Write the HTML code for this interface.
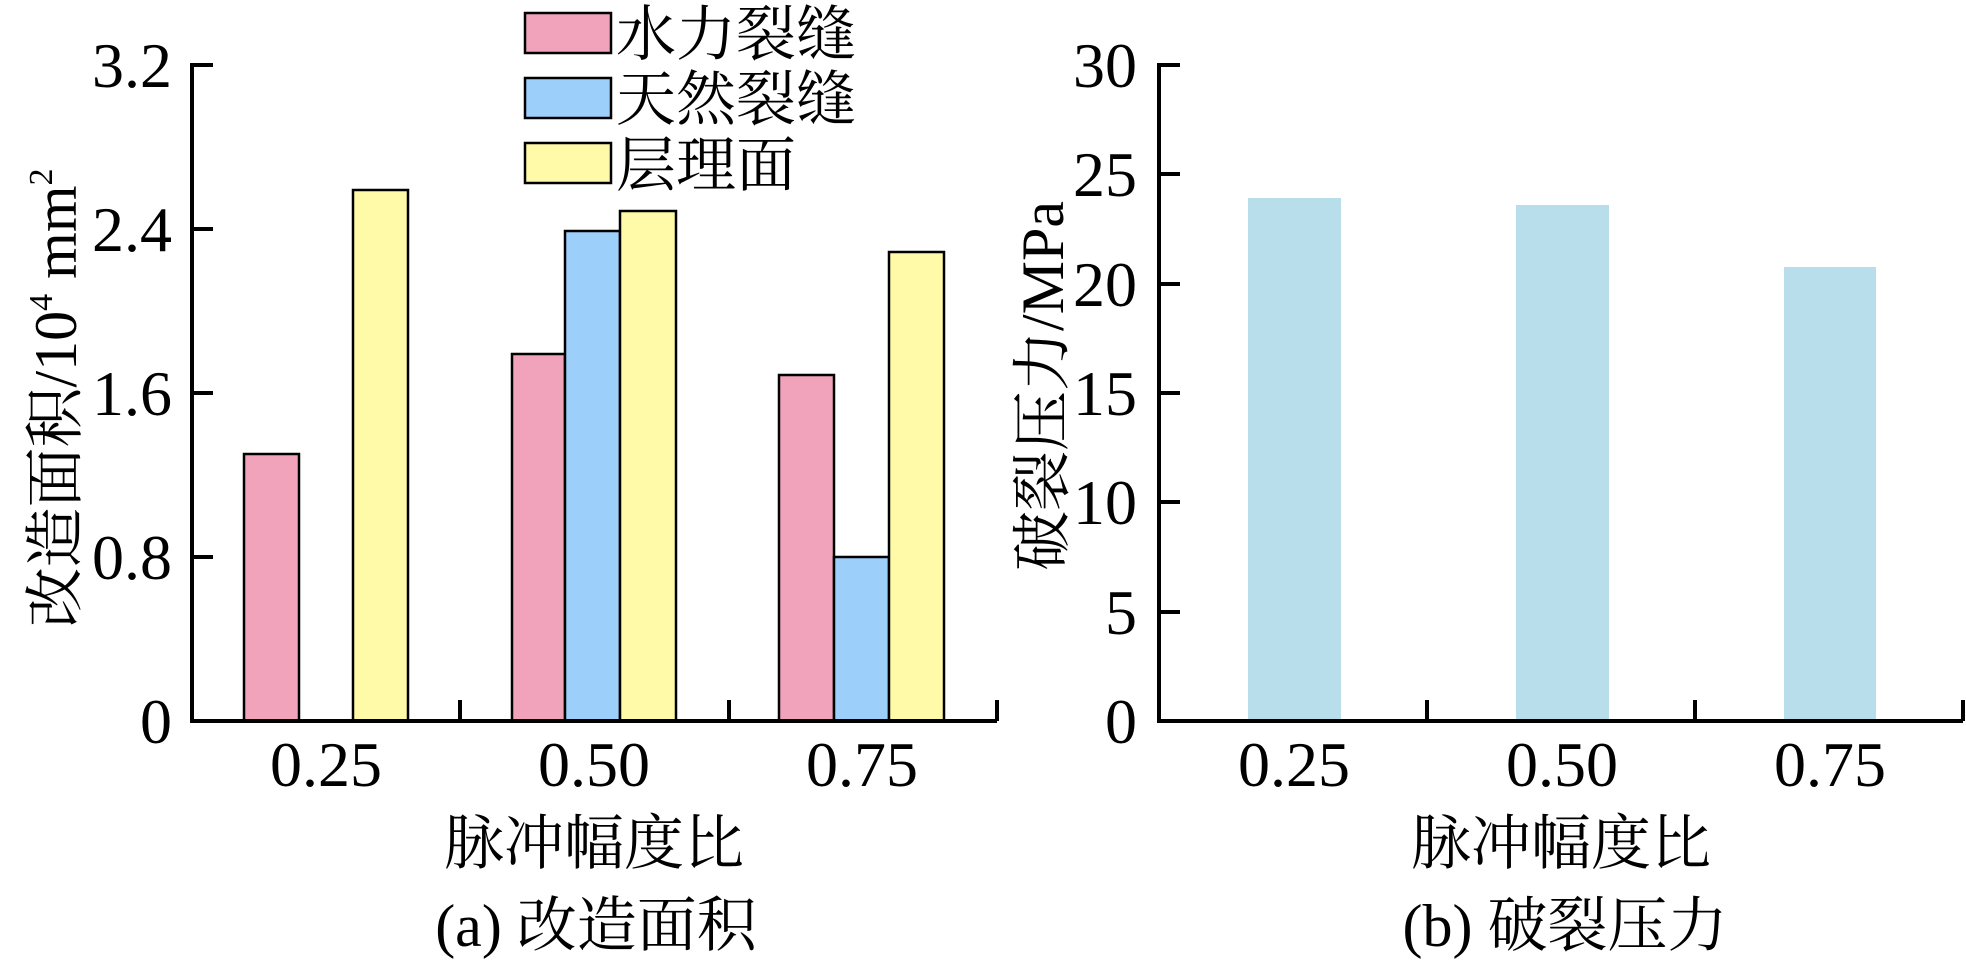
<!DOCTYPE html>
<html><head><meta charset="utf-8"><style>
html,body{margin:0;padding:0;background:#fff;}
svg{display:block;}
text{font-family:"Liberation Serif","Noto Serif CJK SC",serif;fill:#000;}
</style></head><body>
<svg width="1966" height="965" viewBox="0 0 1966 965" xmlns="http://www.w3.org/2000/svg">
<!-- Left chart bars -->
<g stroke="#000" stroke-width="2.5">
<rect x="244" y="454" width="55" height="267" fill="#f1a3bc"/>
<rect x="353" y="190" width="55" height="531" fill="#fffaa8"/>
<rect x="512" y="354" width="53" height="367" fill="#f1a3bc"/>
<rect x="565" y="231" width="55" height="490" fill="#9dcffb"/>
<rect x="620" y="211" width="56" height="510" fill="#fffaa8"/>
<rect x="779" y="375" width="55" height="346" fill="#f1a3bc"/>
<rect x="834" y="557" width="55" height="164" fill="#9dcffb"/>
<rect x="889" y="252" width="55" height="469" fill="#fffaa8"/>
</g>
<!-- Left axes -->
<g stroke="#000" stroke-width="4" fill="none">
<polyline points="213,65 192,65 192,721 997,721"/>
<line x1="192" y1="229" x2="213" y2="229"/>
<line x1="192" y1="393" x2="213" y2="393"/>
<line x1="192" y1="557" x2="213" y2="557"/>
<line x1="460" y1="721" x2="460" y2="700"/>
<line x1="729" y1="721" x2="729" y2="700"/>
<line x1="997" y1="721" x2="997" y2="700"/>
</g>
<g font-size="64" text-anchor="end">
<text x="172" y="87">3.2</text>
<text x="172" y="251">2.4</text>
<text x="172" y="415">1.6</text>
<text x="172" y="579">0.8</text>
<text x="172" y="743">0</text>
</g>
<g font-size="64" text-anchor="middle">
<text x="326" y="786">0.25</text>
<text x="594" y="786">0.50</text>
<text x="862" y="786">0.75</text>
</g>
<text x="594" y="864" font-size="60" text-anchor="middle">脉冲幅度比</text>
<text x="596" y="946" font-size="60" text-anchor="middle">(a) 改造面积</text>
<text transform="translate(76,398) rotate(-90)" font-size="60" text-anchor="middle">改造面积/10<tspan font-size="34" dy="-24">4</tspan><tspan dy="24"> mm</tspan><tspan font-size="34" dy="-24">2</tspan></text>
<!-- Legend -->
<g stroke="#000" stroke-width="2.5">
<rect x="525" y="13" width="86" height="40" fill="#f1a3bc"/>
<rect x="525" y="78" width="86" height="40" fill="#9dcffb"/>
<rect x="525" y="143" width="86" height="40" fill="#fffaa8"/>
</g>
<g font-size="60">
<text x="616" y="55">水力裂缝</text>
<text x="616" y="120">天然裂缝</text>
<text x="616" y="186">层理面</text>
</g>
<!-- Right chart bars -->
<g fill="#b8deec">
<rect x="1248" y="198" width="93" height="523"/>
<rect x="1516" y="205" width="93" height="516"/>
<rect x="1784" y="267" width="92" height="454"/>
</g>
<g stroke="#000" stroke-width="4" fill="none">
<polyline points="1180,65 1159,65 1159,721 1963,721"/>
<line x1="1159" y1="174" x2="1180" y2="174"/>
<line x1="1159" y1="284" x2="1180" y2="284"/>
<line x1="1159" y1="393" x2="1180" y2="393"/>
<line x1="1159" y1="502" x2="1180" y2="502"/>
<line x1="1159" y1="612" x2="1180" y2="612"/>
<line x1="1427" y1="721" x2="1427" y2="700"/>
<line x1="1695" y1="721" x2="1695" y2="700"/>
<line x1="1963" y1="721" x2="1963" y2="700"/>
</g>
<g font-size="64" text-anchor="end">
<text x="1137" y="87">30</text>
<text x="1137" y="196">25</text>
<text x="1137" y="306">20</text>
<text x="1137" y="415">15</text>
<text x="1137" y="524">10</text>
<text x="1137" y="634">5</text>
<text x="1137" y="743">0</text>
</g>
<g font-size="64" text-anchor="middle">
<text x="1294" y="786">0.25</text>
<text x="1562" y="786">0.50</text>
<text x="1830" y="786">0.75</text>
</g>
<text x="1561" y="864" font-size="60" text-anchor="middle">脉冲幅度比</text>
<text x="1565" y="946" font-size="60" text-anchor="middle">(b) 破裂压力</text>
<text transform="translate(1063,386) rotate(-90)" font-size="60" text-anchor="middle">破裂压力/MPa</text>
</svg>
</body></html>
